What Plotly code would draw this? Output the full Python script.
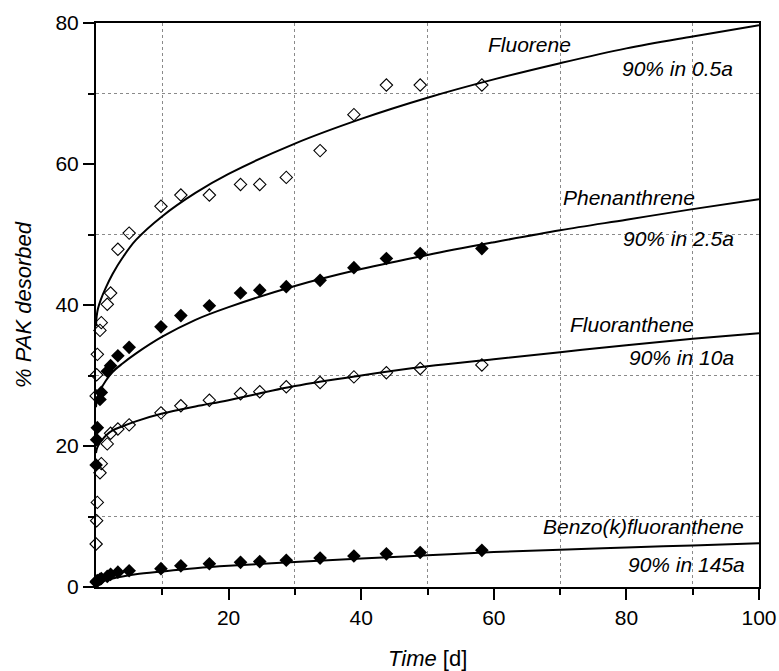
import plotly.graph_objects as go

# ---- measured data (days, % desorbed) ----
t_days = [0.02, 0.1, 0.2, 0.6, 0.8, 1.7, 2.2, 3.3, 5.0, 9.8, 12.8, 17.1,
          21.8, 24.7, 28.7, 33.8, 38.9, 43.8, 48.9, 58.2]
fluorene = [27.1, 30.1, 33.0, 36.4, 37.5, 40.1, 41.7, 47.9, 50.2, 54.0, 55.6, 55.6,
            57.1, 57.1, 58.1, 61.9, 67.0, 71.2, 71.2, 71.2]
phenanthrene = [17.3, 20.9, 22.6, 26.6, 27.6, 30.6, 31.4, 32.8, 34.0, 36.9, 38.5, 39.9,
                41.7, 42.1, 42.6, 43.5, 45.3, 46.6, 47.3, 48.0]
fluoranthene = [6.1, 9.4, 12.0, 16.2, 17.5, 20.3, 21.8, 22.4, 23.0, 24.7, 25.7, 26.5,
                27.4, 27.7, 28.4, 29.0, 29.8, 30.4, 31.0, 31.5]
benzo_k_fluoranthene = [0.7, 0.8, 0.9, 1.1, 1.2, 1.5, 1.8, 2.1, 2.3, 2.6, 3.0, 3.3,
                        3.5, 3.6, 3.8, 4.1, 4.4, 4.7, 4.9, 5.2]

# ---- fitted curves ----
t_fit = [0, 0.1, 0.3, 0.7, 1.5, 2.5, 4, 6, 10, 15, 20, 30, 40, 50, 60, 70, 80, 90, 100]
fit_fluorene = [37.0, 38.4, 39.5, 40.7, 42.5, 44.4, 46.7, 49.2, 52.6, 55.9, 58.6, 62.9,
                66.4, 69.4, 72.0, 74.3, 76.4, 78.1, 79.7]
fit_phenanthrene = [25.5, 26.3, 27.0, 28.0, 29.3, 30.5, 31.7, 33.1, 35.5, 37.9, 39.7, 42.7,
                    45.1, 47.1, 48.9, 50.6, 52.1, 53.6, 55.0]
fit_fluoranthene = [19.0, 19.5, 20.0, 20.6, 21.5, 22.2, 22.8, 23.5, 24.6, 25.6, 26.5, 28.5,
                    30.0, 31.3, 32.3, 33.3, 34.3, 35.2, 36.0]
fit_benzo = [0.2, 0.35, 0.5, 0.7, 1.0, 1.2, 1.5, 1.8, 2.2, 2.65, 3.0, 3.55,
             4.05, 4.5, 4.95, 5.3, 5.6, 5.9, 6.2]

x_ticks = [20, 40, 60, 80, 100]
y_ticks = [0, 20, 40, 60, 80]

FONT = "Liberation Sans, Arial, sans-serif"

fig = go.Figure()

for fit in [fit_fluorene, fit_phenanthrene, fit_fluoranthene, fit_benzo]:
    fig.add_trace(go.Scatter(x=t_fit, y=fit, mode="lines",
                             line=dict(color="black", width=2, shape="spline", smoothing=1.0),
                             hoverinfo="skip", showlegend=False))

open_marker = dict(symbol="diamond-open", size=9.5, color="black", line=dict(width=1.1, color="black"))
filled_marker = dict(symbol="diamond", size=10.5, color="black", line=dict(width=0))

for vals, mk in [(fluorene, open_marker), (phenanthrene, filled_marker),
                 (fluoranthene, open_marker), (benzo_k_fluoranthene, filled_marker)]:
    fig.add_trace(go.Scatter(x=t_days, y=vals, mode="markers", marker=mk,
                             cliponaxis=False, showlegend=False))

labels = [
    ("<i>Fluorene</i>", 71.9, 76.9),
    ("<i>90% in 0.5a</i>", 96.4, 73.6),
    ("<i>Phenanthrene</i>", 90.7, 55.2),
    ("<i>90% in 2.5a</i>", 96.5, 49.5),
    ("<i>Fluoranthene</i>", 90.5, 37.2),
    ("<i>90% in 10a</i>", 96.5, 32.6),
    ("<i>Benzo(k)fluoranthene</i>", 98.0, 8.55),
    ("<i>90% in 145a</i>", 98.2, 3.2),
]
for txt, x, y in labels:
    fig.add_annotation(x=x, y=y, text=txt, showarrow=False, xanchor="right", yanchor="middle",
                       font=dict(family=FONT, size=21, color="black"))

fig.add_annotation(xref="paper", yref="paper", x=0.5, y=0, yshift=-71, text="<i>Time</i> [d]",
                   showarrow=False, xanchor="center", yanchor="middle",
                   font=dict(family=FONT, size=22, color="black"))
fig.add_annotation(xref="paper", yref="paper", x=0, y=0.5, xshift=-73, text="<i>% PAK desorbed</i>",
                   textangle=-90, showarrow=False, xanchor="center", yanchor="middle",
                   font=dict(family=FONT, size=22, color="black"))

axis_common = dict(showline=True, linewidth=2, linecolor="black", mirror=True,
                   ticks="outside", ticklen=11, tickwidth=2, tickcolor="black",
                   showgrid=False, zeroline=False, automargin=False,
                   tickfont=dict(family=FONT, size=21, color="black"))

fig.update_xaxes(range=[0, 100], tickmode="array", tickvals=x_ticks,
                 minor=dict(tickmode="array", tickvals=[10, 30, 50, 70, 90], ticks="outside",
                            ticklen=6, tickwidth=1.5, tickcolor="black",
                            showgrid=True, gridcolor="#8a8a8a", griddash="dot", gridwidth=1),
                 **axis_common)
fig.update_yaxes(range=[0, 80], tickmode="array", tickvals=y_ticks,
                 minor=dict(tickmode="array", tickvals=[10, 30, 50, 70], ticks="outside",
                            ticklen=6, tickwidth=1.5, tickcolor="black",
                            showgrid=True, gridcolor="#8a8a8a", griddash="dot", gridwidth=1),
                 **axis_common)

fig.update_layout(width=779, height=671, margin=dict(l=96, r=20, t=23, b=84),
                  paper_bgcolor="white", plot_bgcolor="white", showlegend=False,
                  font=dict(family=FONT))

# remove the default page margin so the figure fills the window exactly
fig.write_html("out.html", config={"displayModeBar": False},
               post_script="document.body.style.margin='0';document.body.style.overflow='hidden';")
